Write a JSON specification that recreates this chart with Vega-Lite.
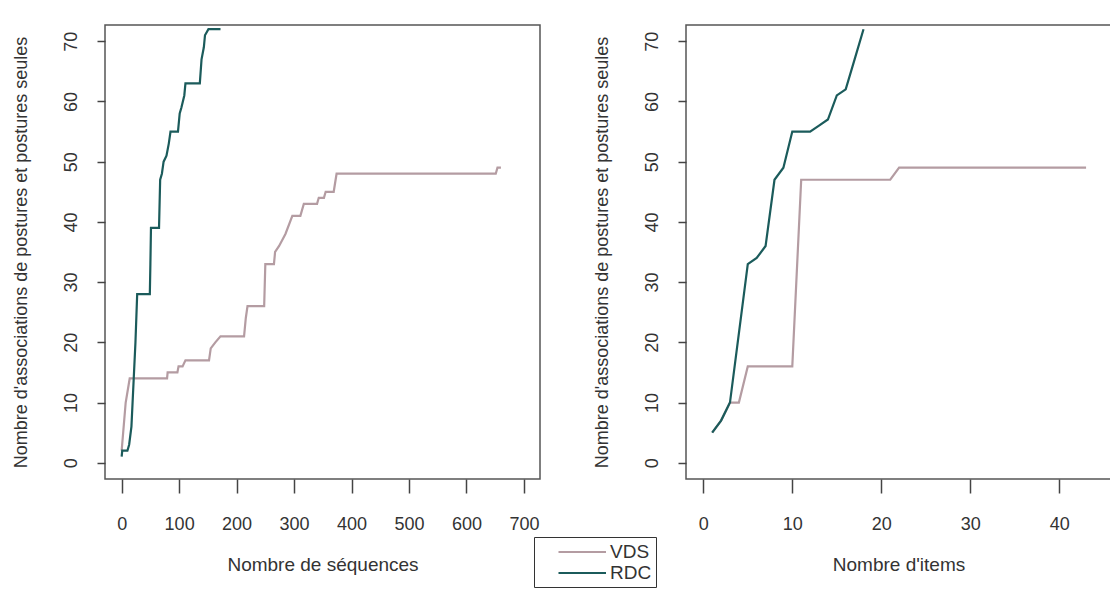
{
  "$schema": "https://vega.github.io/schema/vega-lite/v6.json",
  "background": "white",
  "padding": {"left": 11, "top": 24, "right": 0, "bottom": 0},
  "datasets": {
    "d": [
      {"panel": "seq", "serie": "RDC", "x": 0, "y": 1},
      {"panel": "seq", "serie": "RDC", "x": 1, "y": 2},
      {"panel": "seq", "serie": "RDC", "x": 10, "y": 2},
      {"panel": "seq", "serie": "RDC", "x": 13, "y": 3},
      {"panel": "seq", "serie": "RDC", "x": 17, "y": 6},
      {"panel": "seq", "serie": "RDC", "x": 19, "y": 10},
      {"panel": "seq", "serie": "RDC", "x": 21, "y": 14},
      {"panel": "seq", "serie": "RDC", "x": 24, "y": 20},
      {"panel": "seq", "serie": "RDC", "x": 27, "y": 28},
      {"panel": "seq", "serie": "RDC", "x": 49, "y": 28},
      {"panel": "seq", "serie": "RDC", "x": 50, "y": 33},
      {"panel": "seq", "serie": "RDC", "x": 51, "y": 39},
      {"panel": "seq", "serie": "RDC", "x": 65, "y": 39},
      {"panel": "seq", "serie": "RDC", "x": 67, "y": 47},
      {"panel": "seq", "serie": "RDC", "x": 70, "y": 48},
      {"panel": "seq", "serie": "RDC", "x": 73, "y": 50},
      {"panel": "seq", "serie": "RDC", "x": 78, "y": 51},
      {"panel": "seq", "serie": "RDC", "x": 82, "y": 53},
      {"panel": "seq", "serie": "RDC", "x": 85, "y": 55},
      {"panel": "seq", "serie": "RDC", "x": 98, "y": 55},
      {"panel": "seq", "serie": "RDC", "x": 101, "y": 58},
      {"panel": "seq", "serie": "RDC", "x": 104, "y": 59},
      {"panel": "seq", "serie": "RDC", "x": 109, "y": 61},
      {"panel": "seq", "serie": "RDC", "x": 111, "y": 63},
      {"panel": "seq", "serie": "RDC", "x": 136, "y": 63},
      {"panel": "seq", "serie": "RDC", "x": 139, "y": 67},
      {"panel": "seq", "serie": "RDC", "x": 143, "y": 69},
      {"panel": "seq", "serie": "RDC", "x": 145, "y": 71},
      {"panel": "seq", "serie": "RDC", "x": 151, "y": 72},
      {"panel": "seq", "serie": "RDC", "x": 172, "y": 72},
      {"panel": "seq", "serie": "VDS", "x": 0, "y": 2},
      {"panel": "seq", "serie": "VDS", "x": 7, "y": 10},
      {"panel": "seq", "serie": "VDS", "x": 14, "y": 14},
      {"panel": "seq", "serie": "VDS", "x": 79, "y": 14},
      {"panel": "seq", "serie": "VDS", "x": 80, "y": 15},
      {"panel": "seq", "serie": "VDS", "x": 97, "y": 15},
      {"panel": "seq", "serie": "VDS", "x": 99, "y": 16},
      {"panel": "seq", "serie": "VDS", "x": 106, "y": 16},
      {"panel": "seq", "serie": "VDS", "x": 111, "y": 17},
      {"panel": "seq", "serie": "VDS", "x": 152, "y": 17},
      {"panel": "seq", "serie": "VDS", "x": 155, "y": 19},
      {"panel": "seq", "serie": "VDS", "x": 163, "y": 20},
      {"panel": "seq", "serie": "VDS", "x": 172, "y": 21},
      {"panel": "seq", "serie": "VDS", "x": 213, "y": 21},
      {"panel": "seq", "serie": "VDS", "x": 216, "y": 24},
      {"panel": "seq", "serie": "VDS", "x": 219, "y": 26},
      {"panel": "seq", "serie": "VDS", "x": 248, "y": 26},
      {"panel": "seq", "serie": "VDS", "x": 250, "y": 33},
      {"panel": "seq", "serie": "VDS", "x": 265, "y": 33},
      {"panel": "seq", "serie": "VDS", "x": 267, "y": 35},
      {"panel": "seq", "serie": "VDS", "x": 274, "y": 36},
      {"panel": "seq", "serie": "VDS", "x": 285, "y": 38},
      {"panel": "seq", "serie": "VDS", "x": 297, "y": 41},
      {"panel": "seq", "serie": "VDS", "x": 311, "y": 41},
      {"panel": "seq", "serie": "VDS", "x": 317, "y": 43},
      {"panel": "seq", "serie": "VDS", "x": 340, "y": 43},
      {"panel": "seq", "serie": "VDS", "x": 343, "y": 44},
      {"panel": "seq", "serie": "VDS", "x": 352, "y": 44},
      {"panel": "seq", "serie": "VDS", "x": 355, "y": 45},
      {"panel": "seq", "serie": "VDS", "x": 369, "y": 45},
      {"panel": "seq", "serie": "VDS", "x": 374, "y": 48},
      {"panel": "seq", "serie": "VDS", "x": 651, "y": 48},
      {"panel": "seq", "serie": "VDS", "x": 654, "y": 49},
      {"panel": "seq", "serie": "VDS", "x": 660, "y": 49},
      {"panel": "items", "serie": "RDC", "x": 1, "y": 5},
      {"panel": "items", "serie": "RDC", "x": 2, "y": 7},
      {"panel": "items", "serie": "RDC", "x": 3, "y": 10},
      {"panel": "items", "serie": "RDC", "x": 4, "y": 21.5},
      {"panel": "items", "serie": "RDC", "x": 5, "y": 33},
      {"panel": "items", "serie": "RDC", "x": 6, "y": 34},
      {"panel": "items", "serie": "RDC", "x": 7, "y": 36},
      {"panel": "items", "serie": "RDC", "x": 8, "y": 47},
      {"panel": "items", "serie": "RDC", "x": 9, "y": 49},
      {"panel": "items", "serie": "RDC", "x": 10, "y": 55},
      {"panel": "items", "serie": "RDC", "x": 11, "y": 55},
      {"panel": "items", "serie": "RDC", "x": 12, "y": 55},
      {"panel": "items", "serie": "RDC", "x": 13, "y": 56},
      {"panel": "items", "serie": "RDC", "x": 14, "y": 57},
      {"panel": "items", "serie": "RDC", "x": 15, "y": 61},
      {"panel": "items", "serie": "RDC", "x": 16, "y": 62},
      {"panel": "items", "serie": "RDC", "x": 17, "y": 67},
      {"panel": "items", "serie": "RDC", "x": 18, "y": 72},
      {"panel": "items", "serie": "VDS", "x": 1, "y": 5},
      {"panel": "items", "serie": "VDS", "x": 2, "y": 7},
      {"panel": "items", "serie": "VDS", "x": 3, "y": 10},
      {"panel": "items", "serie": "VDS", "x": 4, "y": 10},
      {"panel": "items", "serie": "VDS", "x": 5, "y": 16},
      {"panel": "items", "serie": "VDS", "x": 6, "y": 16},
      {"panel": "items", "serie": "VDS", "x": 7, "y": 16},
      {"panel": "items", "serie": "VDS", "x": 8, "y": 16},
      {"panel": "items", "serie": "VDS", "x": 9, "y": 16},
      {"panel": "items", "serie": "VDS", "x": 10, "y": 16},
      {"panel": "items", "serie": "VDS", "x": 11, "y": 47},
      {"panel": "items", "serie": "VDS", "x": 12, "y": 47},
      {"panel": "items", "serie": "VDS", "x": 13, "y": 47},
      {"panel": "items", "serie": "VDS", "x": 14, "y": 47},
      {"panel": "items", "serie": "VDS", "x": 15, "y": 47},
      {"panel": "items", "serie": "VDS", "x": 16, "y": 47},
      {"panel": "items", "serie": "VDS", "x": 17, "y": 47},
      {"panel": "items", "serie": "VDS", "x": 18, "y": 47},
      {"panel": "items", "serie": "VDS", "x": 19, "y": 47},
      {"panel": "items", "serie": "VDS", "x": 20, "y": 47},
      {"panel": "items", "serie": "VDS", "x": 21, "y": 47},
      {"panel": "items", "serie": "VDS", "x": 22, "y": 49},
      {"panel": "items", "serie": "VDS", "x": 23, "y": 49},
      {"panel": "items", "serie": "VDS", "x": 24, "y": 49},
      {"panel": "items", "serie": "VDS", "x": 25, "y": 49},
      {"panel": "items", "serie": "VDS", "x": 26, "y": 49},
      {"panel": "items", "serie": "VDS", "x": 27, "y": 49},
      {"panel": "items", "serie": "VDS", "x": 28, "y": 49},
      {"panel": "items", "serie": "VDS", "x": 29, "y": 49},
      {"panel": "items", "serie": "VDS", "x": 30, "y": 49},
      {"panel": "items", "serie": "VDS", "x": 31, "y": 49},
      {"panel": "items", "serie": "VDS", "x": 32, "y": 49},
      {"panel": "items", "serie": "VDS", "x": 33, "y": 49},
      {"panel": "items", "serie": "VDS", "x": 34, "y": 49},
      {"panel": "items", "serie": "VDS", "x": 35, "y": 49},
      {"panel": "items", "serie": "VDS", "x": 36, "y": 49},
      {"panel": "items", "serie": "VDS", "x": 37, "y": 49},
      {"panel": "items", "serie": "VDS", "x": 38, "y": 49},
      {"panel": "items", "serie": "VDS", "x": 39, "y": 49},
      {"panel": "items", "serie": "VDS", "x": 40, "y": 49},
      {"panel": "items", "serie": "VDS", "x": 41, "y": 49},
      {"panel": "items", "serie": "VDS", "x": 42, "y": 49},
      {"panel": "items", "serie": "VDS", "x": 43, "y": 49}
    ]
  },
  "data": {"name": "d"},
  "spacing": 51,
  "hconcat": [
    {
      "width": 435,
      "height": 454,
      "transform": [{"filter": "datum.panel === 'seq'"}],
      "encoding": {
        "x": {"field": "x", "type": "quantitative",
          "scale": {"domain": [-29, 728], "nice": false, "zero": false},
          "axis": {"title": "Nombre de séquences", "values": [0, 100, 200, 300, 400, 500, 600, 700], "titleY": 76}},
        "y": {"field": "y", "type": "quantitative",
          "scale": {"domain": [-2.7, 72.7], "nice": false, "zero": false},
          "axis": {"title": "Nombre d'associations de postures et postures seules", "values": [0, 10, 20, 30, 40, 50, 60, 70], "titleX": -75}},
        "color": {"field": "serie", "type": "nominal",
          "scale": {"domain": ["VDS", "RDC"], "range": ["#B49CA2", "#1B5B5B"]},
          "legend": {"orient": "none", "legendX": 429, "legendY": 512,
            "labelExpr": "datum.label + '\u00a0\u00a0\u00a0\u00a0\u00a0\u00a0'"}}
      },
      "layer": [
        {"transform": [{"filter": "datum.serie === 'VDS'"}], "mark": {"type": "line", "strokeWidth": 2.2}},
        {"transform": [{"filter": "datum.serie === 'RDC'"}], "mark": {"type": "line", "strokeWidth": 2.2}}
      ]
    },
    {
      "width": 425,
      "height": 454,
      "transform": [{"filter": "datum.panel === 'items'"}],
      "encoding": {
        "x": {"field": "x", "type": "quantitative",
          "scale": {"domain": [-1.94, 45.8], "nice": false, "zero": false},
          "axis": {"title": "Nombre d'items", "values": [0, 10, 20, 30, 40], "titleY": 76}},
        "y": {"field": "y", "type": "quantitative",
          "scale": {"domain": [-2.7, 72.7], "nice": false, "zero": false},
          "axis": {"title": "Nombre d'associations de postures et postures seules", "values": [0, 10, 20, 30, 40, 50, 60, 70], "titleX": -75}},
        "color": {"field": "serie", "type": "nominal",
          "scale": {"domain": ["VDS", "RDC"], "range": ["#B49CA2", "#1B5B5B"]}}
      },
      "layer": [
        {"transform": [{"filter": "datum.serie === 'VDS'"}], "mark": {"type": "line", "strokeWidth": 2.2}},
        {"transform": [{"filter": "datum.serie === 'RDC'"}], "mark": {"type": "line", "strokeWidth": 2.2}}
      ]
    }
  ],
  "config": {
    "font": "Liberation Sans",
    "view": {"stroke": "#555", "strokeWidth": 1.5},
    "axis": {
      "domain": false, "grid": false,
      "labelFont": "Liberation Sans", "labelFontSize": 18, "labelColor": "#333",
      "tickColor": "#444", "tickWidth": 1.5,
      "titleFont": "Liberation Sans", "titleFontSize": 18, "titleFontWeight": "normal", "titleColor": "#333"
    },
    "axisX": {"tickSize": 14, "labelPadding": 22, "labelAngle": 0, "titleBaseline": "top", "titleFontSize": 19},
    "axisY": {"tickSize": 8, "labelPadding": 17, "labelAngle": 270, "labelAlign": "center", "labelBaseline": "bottom", "titleAngle": 270, "titleBaseline": "bottom"},
    "legend": {
      "title": null, "strokeColor": "#333", "fillColor": "white", "padding": 4,
      "symbolType": "M1,0H6", "symbolSize": 361, "symbolStrokeWidth": 2.2,
      "labelFont": "Liberation Sans", "labelFontSize": 19, "labelColor": "#333", "labelOffset": 50,
      "rowPadding": -5
    }
  }
}
